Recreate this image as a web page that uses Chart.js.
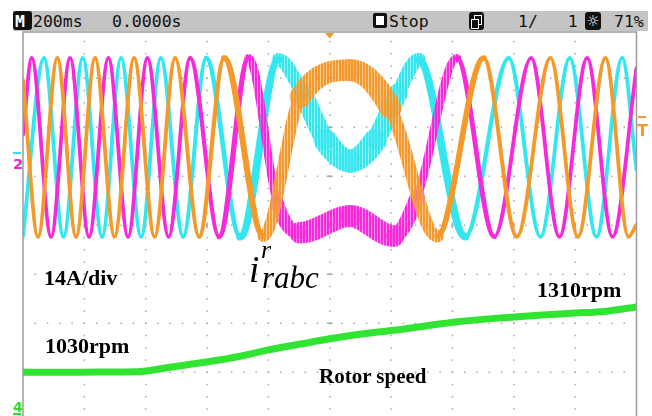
<!DOCTYPE html>
<html>
<head>
<meta charset="utf-8">
<script src="https://cdn.jsdelivr.net/npm/chart.js@4/dist/chart.umd.min.js"></script>
<style>
  html, body { margin: 0; padding: 0; overflow: hidden; background: #fff; }
  #scope { position: relative; width: 652px; height: 424px; }
  #scope canvas { position: absolute; left: 0; top: 0; }
  .t { position: absolute; white-space: pre; }
  .bar { position: absolute; left: 13px; top: 11px; width: 635px; height: 20px; background: #c4c4c4; }
  .mono { font-family: "DejaVu Sans Mono", monospace; font-size: 16.5px; line-height: 16.5px; color: #111; }
  .note { font-family: "Liberation Serif", serif; font-weight: bold; color: #000; font-size: 22px; line-height: 22px; }
  .sym { font-family: "Liberation Serif", serif; font-style: italic; color: #000; }
  .mk { font-family: "DejaVu Sans", sans-serif; font-weight: bold; font-size: 14px; line-height: 14px; }
</style>
</head>
<body>
<div id="scope">
  <canvas id="scopeCanvas" width="652" height="424"></canvas>

  <!-- status line -->
  <div class="bar"></div>
  <div class="t" style="left:13px;top:11px;width:19px;height:19px;background:#111;border-radius:3px;"></div>
  <div class="t mono" style="left:15px;top:14px;color:#fff;font-weight:bold;">M</div>
  <div class="t mono" style="left:33px;top:14px;">200ms</div>
  <div class="t mono" style="left:112px;top:14px;">0.0000s</div>
  <div class="t" style="left:373px;top:13px;width:8px;height:9px;border:3px solid #111;border-radius:2px;background:#fff;"></div>
  <div class="t mono" style="left:389px;top:14px;">Stop</div>
  <div class="t" style="left:469px;top:12px;width:15px;height:18px;background:#111;border-radius:3px;"></div>
  <div class="t" style="left:474px;top:15px;width:6px;height:8px;border:1.5px solid #fff;"></div>
  <div class="t" style="left:471px;top:19px;width:6px;height:8px;border:1.5px solid #fff;background:#111;"></div>
  <div class="t mono" style="left:518px;top:14px;">1/   1</div>
  <div class="t" style="left:585px;top:12px;width:16px;height:18px;background:#111;border-radius:3px;"></div>
  <div class="t" style="left:586px;top:12px;width:14px;font-family:'DejaVu Sans';font-size:15px;line-height:18px;color:#fff;text-align:center;">☼</div>
  <div class="t mono" style="left:614px;top:14px;">71%</div>

  <!-- channel / trigger markers -->
  <div class="t" style="left:13px;top:152px;width:8px;height:2px;background:#2fe0ea;"></div>
  <div class="t mk" style="left:14px;top:157px;color:#2fe0ea;">2</div>
  <div class="t mk" style="left:13px;top:157px;color:#f02ad8;">2</div>
  <div class="t mk" style="left:13px;top:400px;color:#2edc2e;">4</div>
  <div class="t" style="left:13px;top:413px;width:8px;height:2px;background:#2edc2e;"></div>
  <div class="t" style="left:638px;top:116px;width:8px;height:2px;background:#f29a2e;"></div>
  <div class="t mk" style="left:637px;top:123px;color:#f29a2e;font-size:16px;line-height:16px;">T</div>

  <!-- annotations -->
  <div class="t note" style="left:44px;top:266.5px;">14A/div</div>
  <div class="t note" style="left:537px;top:278.5px;">1310rpm</div>
  <div class="t note" style="left:45px;top:334.5px;">1030rpm</div>
  <div class="t note" style="left:319px;top:365.5px;font-size:21px;line-height:21px;">Rotor speed</div>
  <div class="t sym" style="left:249px;top:251px;font-size:37px;line-height:37px;">i</div>
  <div class="t sym" style="left:261px;top:237px;font-size:26px;line-height:26px;">r</div>
  <div class="t sym" style="left:262px;top:262px;font-size:31px;line-height:31px;">rabc</div>
</div>

<script>
// Horizontal: 200 ms/div over 10 divisions, trigger point at 0 s
const timeMin = -1000;
const timeMax = 1000;

// Vertical: 8 divisions; channel scales and positions (divisions above centre)
const ampPerDiv = 14;        // rotor current, A/div
const ampZeroDiv = 1.59;     // current trace position
const rpmPerDiv = 210;       // rotor speed, rpm/div
const rpmRefValue = 1030;    // speed reference value ...
const rpmRefDiv = -3;        // ... shown three divisions below centre

// Rotor phase currents (A) at their turning points / crossings, time in ms
const magentaTime = [-1000, -971.6, -908.6, -846.6, -784.7, -721.7, -657.4, -594.4, -525.3, -455.1, -360.5, -264.9, -171.3, -96.2, 66.9, 207.2, 285.5, 415.0, 536.7, 656.4, 748.8, 839.1, 921.7, 1000];
const magentaAmp  = [3.6, 25.5, -25.5, 25.5, -25.5, 25.5, -25.5, 25.5, -25.5, 25.5, -25.5, 25.5, -15.9, -24.4, -19.6, -25.3, -14.1, 25.5, -25.5, 25.5, -25.5, 25.5, -25.5, 22.7];

const cyanTime = [-1000, -931.5, -867.9, -805.2, -742.2, -680.3, -615.0, -550.7, -478.0, -402.9, -292.0, -167.0, -89.7, -14.7, 66.9, 148.4, 223.5, 289.7, 442.1, 583.4, 686.8, 782.4, 869.5, 953.3, 1000];
const cyanAmp  = [-25.3, 25.5, -25.5, 25.5, -25.5, 25.5, -25.5, 25.5, -25.5, 25.5, -25.5, 25.0, 15.6, 2.0, -3.9, 2.0, 15.6, 25.0, -25.5, 25.5, -25.5, 25.5, -25.5, 25.5, -6.4];

const orangeTime = [-1000, -951.0, -888.1, -827.1, -765.1, -701.5, -637.8, -571.0, -504.1, -425.8, -344.2, -217.0, -96.2, 66.9, 197.4, 350.7, 501.8, 610.1, 719.4, 809.1, 898.8, 973.9, 1000];
const orangeAmp  = [19.3, -25.5, 25.5, -25.5, 25.5, -25.5, 25.5, -25.5, 25.5, -25.5, 25.5, -25.3, 14.4, 22.1, 11.3, -25.3, 25.5, -25.5, 25.5, -25.5, 25.5, -25.5, -22.1];

// Rotor speed (rpm)
const speedTime = [-1000, -880, -750, -629, -521, -397, -292, -204, -96, 11, 116, 217, 328, 419, 556, 693, 801, 895, 1000];
const speedRpm  = [1030, 1030, 1031, 1032, 1052, 1075, 1099, 1125, 1151, 1176, 1196, 1211, 1232, 1247, 1263, 1276, 1284, 1291, 1310];

const colors = { magenta: '#f52ad9', cyan: '#33e6ef', orange: '#f49a2c', green: '#31e431' };

const toPoints = (xs, ys) => xs.map((x, i) => ({ x, y: ys[i] }));

// vertical hatching used where the switching ripple shows as a wide band
function hatch(color) {
  const c = document.createElement('canvas');
  c.width = 3; c.height = 1;
  const g = c.getContext('2d');
  g.fillStyle = color;
  g.fillRect(0, 0, 2, 1);
  g.globalAlpha = 0.5;
  g.fillRect(2, 0, 1, 1);
  return g.createPattern(c, 'repeat');
}

// ripple band is widest around the synchronous-speed crossing
const rippleWidth = t => 3.8 + 20 * Math.exp(-Math.pow((t - 67) / 235, 2));
const segMid = c => (c.p0.parsed.x + c.p1.parsed.x) / 2;

function phaseDataset(label, xs, ys, color) {
  const pattern = hatch(color);
  return {
    label,
    data: toPoints(xs, ys),
    yAxisID: 'yI',
    borderColor: color,
    borderWidth: 4,
    borderCapStyle: 'round',
    borderJoinStyle: 'round',
    cubicInterpolationMode: 'monotone',
    pointRadius: 0,
    clip: 0,
    segment: {
      borderWidth: c => rippleWidth(segMid(c)),
      borderColor: c => rippleWidth(segMid(c)) > 8 ? pattern : color
    }
  };
}

const graticule = {
  id: 'graticule',
  beforeDatasetsDraw(chart) {
    const { ctx, chartArea: a } = chart;
    const dx = (a.right - a.left) / 10;
    const dy = (a.bottom - a.top) / 8;
    ctx.save();
    ctx.fillStyle = '#a9a9a9';
    for (let i = 1; i < 8; i++) {
      const y = a.top + i * dy;
      for (let j = 1; j < 50; j++) ctx.fillRect(a.left + j * dx / 5 - 0.75, y - 0.75, 1.5, 1.5);
    }
    for (let i = 1; i < 10; i++) {
      const x = a.left + i * dx;
      for (let j = 1; j < 32; j++) ctx.fillRect(x - 0.75, a.top + j * dy / 4 - 0.75, 1.5, 1.5);
    }
    const cx = a.left + 5 * dx, cy = a.top + 4 * dy;
    for (let i = 1; i < 8; i++) ctx.fillRect(cx - 3, a.top + i * dy - 0.75, 6, 1.5);
    for (let i = 1; i < 10; i++) ctx.fillRect(a.left + i * dx - 0.75, cy - 3, 1.5, 6);
    ctx.restore();
  },
  afterDatasetsDraw(chart) {
    const { ctx, chartArea: a } = chart;
    const top = a.top + 2.7;
    ctx.save();
    ctx.strokeStyle = '#9c9c9c';
    ctx.lineWidth = 1.5;
    ctx.beginPath();
    ctx.moveTo(a.left, a.bottom + 5);
    ctx.lineTo(a.left, top);
    ctx.lineTo(a.right, top);
    ctx.lineTo(a.right, a.bottom + 5);
    ctx.stroke();
    const cx = chart.scales.x.getPixelForValue(0);
    ctx.fillStyle = colors.orange;
    ctx.beginPath();
    ctx.moveTo(cx - 4.5, top + 1);
    ctx.lineTo(cx + 4.5, top + 1);
    ctx.lineTo(cx, top + 6.5);
    ctx.closePath();
    ctx.fill();
    ctx.restore();
  }
};

new Chart(document.getElementById('scopeCanvas'), {
  type: 'line',
  data: {
    datasets: [
      {
        label: 'Rotor speed',
        data: toPoints(speedTime, speedRpm),
        yAxisID: 'yN',
        borderColor: colors.green,
        borderWidth: 7,
        cubicInterpolationMode: 'monotone',
        pointRadius: 0,
        clip: 0
      },
      phaseDataset('i_ra', orangeTime, orangeAmp, colors.orange),
      phaseDataset('i_rb', magentaTime, magentaAmp, colors.magenta),
      phaseDataset('i_rc', cyanTime, cyanAmp, colors.cyan)
    ]
  },
  options: {
    responsive: false,
    animation: false,
    events: [],
    layout: { padding: { left: 23, right: 15.5, top: 29.3, bottom: 2.7 } },
    plugins: { legend: { display: false }, tooltip: { enabled: false } },
    scales: {
      x: { type: 'linear', min: timeMin, max: timeMax, display: false },
      yI: {
        type: 'linear', display: false,
        min: -ampPerDiv * (4 + ampZeroDiv),
        max: ampPerDiv * (4 - ampZeroDiv)
      },
      yN: {
        type: 'linear', display: false,
        min: rpmRefValue - rpmPerDiv * (4 + rpmRefDiv),
        max: rpmRefValue + rpmPerDiv * (4 - rpmRefDiv)
      }
    }
  },
  plugins: [graticule]
});
</script>
</body>
</html>
